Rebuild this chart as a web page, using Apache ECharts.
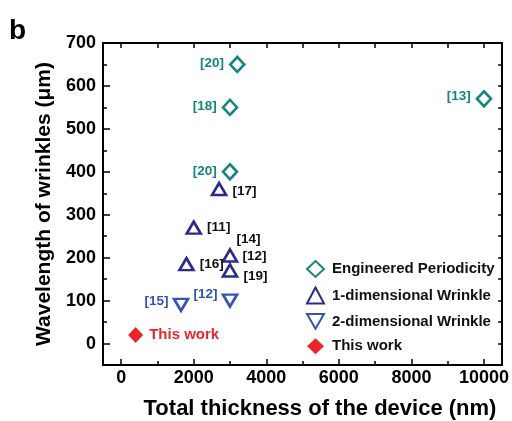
<!DOCTYPE html>
<html><head><meta charset="utf-8">
<script src="https://cdn.jsdelivr.net/npm/echarts@6/dist/echarts.min.js"></script>
<style>html,body{margin:0;padding:0;background:#fff}#c{width:512px;height:421px}</style>
</head><body><div id="c"></div>
<script>
// ---- data ----
const engX = [3200, 3000, 3000, 10000];
const engY = [650, 550, 400, 570];
const engRef = ['[20]', '[18]', '[20]', '[13]'];

const w1X = [2700, 2000, 1800, 3000, 3000];
const w1Y = [360, 270, 185, 205, 170];
const w1Ref = ['[17]', '[11]', '[16]', '[14]\n[12]', '[19]'];

const w2X = [1650, 3000];
const w2Y = [90, 100];
const w2Ref = ['[15]', '[12]'];

const twX = [400];
const twY = [20];
const twRef = ['This work'];

const xTickLabels = [0, 2000, 4000, 6000, 8000, 10000];
const yTickLabels = [0, 100, 200, 300, 400, 500, 600, 700];
const xMinorTicks = [1000, 3000, 5000, 7000, 9000];
const yMinorTicks = [50, 150, 250, 350, 450, 550, 650];
const xTopTicks = [0, 1000, 2000, 3000, 4000, 5000, 6000, 7000, 8000, 9000, 10000];
const yRightTicks = [0, 50, 100, 150, 200, 250, 300, 350, 400, 450, 500, 550, 600, 650, 700];

// ---- styles ----
const FONT = 'Liberation Sans';
const TEAL = '#16857f', NAVY = '#2c2b88', BLUE = '#3553b0', RED = '#e8262b';

// label placement per point (style only)
const engLbl = [
  {position: 'left', distance: 5, offset: [0, -1]},
  {position: 'left', distance: 5, offset: [0, -1]},
  {position: 'left', distance: 5, offset: [0, -1]},
  {position: 'left', distance: 5, offset: [0, -3]}
];
const w1Lbl = [
  {position: 'right', distance: 5, offset: [0, 2]},
  {position: 'right', distance: 5, offset: [0, 0]},
  {position: 'right', distance: 5, offset: [0, 0]},
  {position: 'right', distance: 4, offset: [0, -6], lineHeight: 15, align: 'left'},
  {position: 'right', distance: 5, offset: [0, 6]}
];
const w2Lbl = [
  {position: 'left', distance: 4, offset: [0, -4]},
  {position: 'left', distance: 4, offset: [0, -6]}
];
const twLbl = [{position: 'right', distance: 6, offset: [0, 0]}];

function pts(xs, ys, refs, lbls, color) {
  return xs.map((x, i) => ({
    value: [x, ys[i]],
    label: Object.assign({show: true, formatter: refs[i], color: color,
      fontFamily: FONT, fontWeight: 'bold', fontSize: 13.5}, lbls[i])
  }));
}
function w1pts() {
  const d = pts(w1X, w1Y, w1Ref, w1Lbl, '#111');
  d[3].label.formatter = '{a|[14]}\n{b|[12]}';
  d[3].label.rich = {
    a: {fontFamily: FONT, fontWeight: 'bold', fontSize: 13.5, color: '#111', padding: [0, 0, 4, -6]},
    b: {fontFamily: FONT, fontWeight: 'bold', fontSize: 13.5, color: '#111'}
  };
  d[3].label.offset = [0, -7];
  return d;
}

const DOWN = 'path://M0,0 L10,0 L5,8.66 Z';

const chart = echarts.init(document.getElementById('c'), null, {renderer: 'canvas'});
const axisLine = {show: true, onZero: false, lineStyle: {color: '#000', width: 2}};
const noLine = {show: false, onZero: false};
const baseX = {type: 'value', min: -500, max: 10500, splitLine: {show: false}};
const baseY = {type: 'value', min: -50, max: 700, splitLine: {show: false}};
const tickLabel = {color: '#000', fontFamily: FONT, fontWeight: 'bold', fontSize: 18, formatter: v => String(v)};

chart.setOption({
  animation: false,
  backgroundColor: '#fff',
  grid: {left: 103, top: 43, width: 401, height: 322, containLabel: false},
  xAxis: [
    Object.assign({}, baseX, {
      position: 'bottom', axisLine: axisLine,
      axisTick: {show: true, inside: true, length: 6, lineStyle: {color: '#000', width: 1.5}, customValues: xTickLabels},
      axisLabel: Object.assign({show: true, customValues: xTickLabels, margin: 4}, tickLabel)
    }),
    Object.assign({}, baseX, {
      position: 'bottom', axisLine: noLine,
      axisTick: {show: true, inside: true, length: 4, lineStyle: {color: '#000', width: 1.5}, customValues: xMinorTicks},
      axisLabel: {show: false}
    }),
    Object.assign({}, baseX, {
      position: 'top', axisLine: axisLine,
      axisTick: {show: true, inside: true, length: 5, lineStyle: {color: '#000', width: 1.5}, customValues: xTopTicks},
      axisLabel: {show: false}
    })
  ],
  yAxis: [
    Object.assign({}, baseY, {
      position: 'left', axisLine: axisLine,
      axisTick: {show: true, inside: true, length: 7, lineStyle: {color: '#000', width: 1.5}, customValues: yTickLabels},
      axisLabel: Object.assign({show: true, customValues: yTickLabels, margin: 7}, tickLabel)
    }),
    Object.assign({}, baseY, {
      position: 'left', axisLine: noLine,
      axisTick: {show: true, inside: true, length: 4, lineStyle: {color: '#000', width: 1.5}, customValues: yMinorTicks},
      axisLabel: {show: false}
    }),
    Object.assign({}, baseY, {
      position: 'right', axisLine: axisLine,
      axisTick: {show: true, inside: true, length: 4, lineStyle: {color: '#000', width: 1.5}, customValues: yRightTicks},
      axisLabel: {show: false}
    })
  ],
  legend: {
    orient: 'vertical', left: 301, top: 255, itemGap: 8.5, itemWidth: 17, itemHeight: 16,
    textStyle: {fontFamily: FONT, fontWeight: 'bold', fontSize: 15, color: '#111', padding: [0, 0, 0, 3]},
    data: ['Engineered Periodicity', '1-dimensional Wrinkle', '2-dimensional Wrinkle', 'This work']
  },
  series: [
    {name: 'Engineered Periodicity', type: 'scatter', symbol: 'diamond', symbolSize: [14, 15],
     itemStyle: {color: '#fff', borderColor: TEAL, borderWidth: 2.6, opacity: 1},
     data: pts(engX, engY, engRef, engLbl, TEAL)},
    {name: '1-dimensional Wrinkle', type: 'scatter', symbol: 'triangle', symbolSize: [14, 12],
     itemStyle: {color: '#fff', borderColor: NAVY, borderWidth: 2.6, opacity: 1},
     data: w1pts()},
    {name: '2-dimensional Wrinkle', type: 'scatter', symbol: DOWN, symbolSize: [14, 12],
     itemStyle: {color: '#fff', borderColor: BLUE, borderWidth: 2.6, opacity: 1},
     data: pts(w2X, w2Y, w2Ref, w2Lbl, BLUE)},
    {name: 'This work', type: 'scatter', symbol: 'diamond', symbolSize: [15, 16],
     itemStyle: {color: RED, opacity: 1},
     data: pts(twX, twY, twRef, twLbl, RED).map(d => { d.label.fontSize = 15; return d; })}
  ],
  graphic: [
    {type: 'text', left: 9, top: 17, style: {text: 'b', font: 'bold 28px "Liberation Sans"', fill: '#000'}},
    {type: 'text', x: 320, y: 409, style: {text: 'Total thickness of the device (nm)',
      font: 'bold 22px "Liberation Sans"', fill: '#000', textAlign: 'center', textVerticalAlign: 'middle'}},
    {type: 'text', x: 44, y: 204, rotation: Math.PI / 2, style: {text: 'Wavelength of wrinkles (\u03bcm)',
      font: 'bold 21px "Liberation Sans"', fill: '#000', textAlign: 'center', textVerticalAlign: 'middle'}}
  ]
});
</script></body></html>
